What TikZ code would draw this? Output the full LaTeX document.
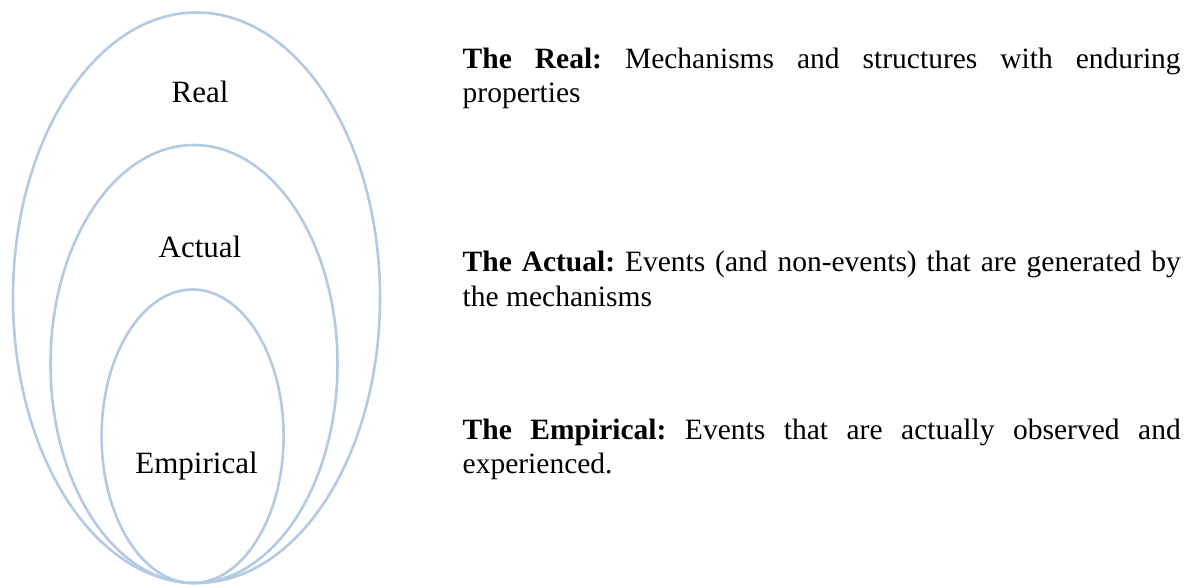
\documentclass[tikz,border=0pt]{standalone}
\usepackage{fontspec}
\setmainfont{Liberation Serif}
\frenchspacing
\begin{document}
\begin{tikzpicture}[x=1pt,y=1pt,
  ring/.style={draw={rgb,255:red,180;green,201;blue,228}, line width=2.6pt},
  lbl/.style={font=\fontsize{31}{36}\selectfont, inner sep=0pt, anchor=base},
  desc/.style={font=\fontsize{29.5}{34.5}\selectfont, inner sep=0pt, anchor=base west,
    text width=718pt, align=justify}]
\useasboundingbox (0,0) rectangle (1196,-585);
\draw[ring] (196.5,-297.75) ellipse [x radius=183.5, y radius=285.25];
\draw[ring] (194,-364) ellipse [x radius=143.5, y radius=219];
\draw[ring] (192.6,-436.25) ellipse [x radius=91, y radius=146.75];
\node[lbl] (real) at (200,-103) {Real};
\node[lbl] (actual) at (200,-258) {Actual};
\node[lbl] (emp) at (196.5,-473) {Empirical};
\node[desc] (dreal) at (462.5,-68.3) {\hyphenpenalty=10000\relax\textbf{The Real:} Mechanisms and structures with enduring\linebreak properties};
\node[desc] (dact) at (462.5,-271.7) {\hyphenpenalty=10000\relax\textbf{The Actual:} Events (and non-events) that are generated by\linebreak the mechanisms};
\node[desc] (demp) at (462.5,-439) {\hyphenpenalty=10000\relax\textbf{The Empirical:} Events that are actually observed and\linebreak experienced.};
\end{tikzpicture}
\end{document}
